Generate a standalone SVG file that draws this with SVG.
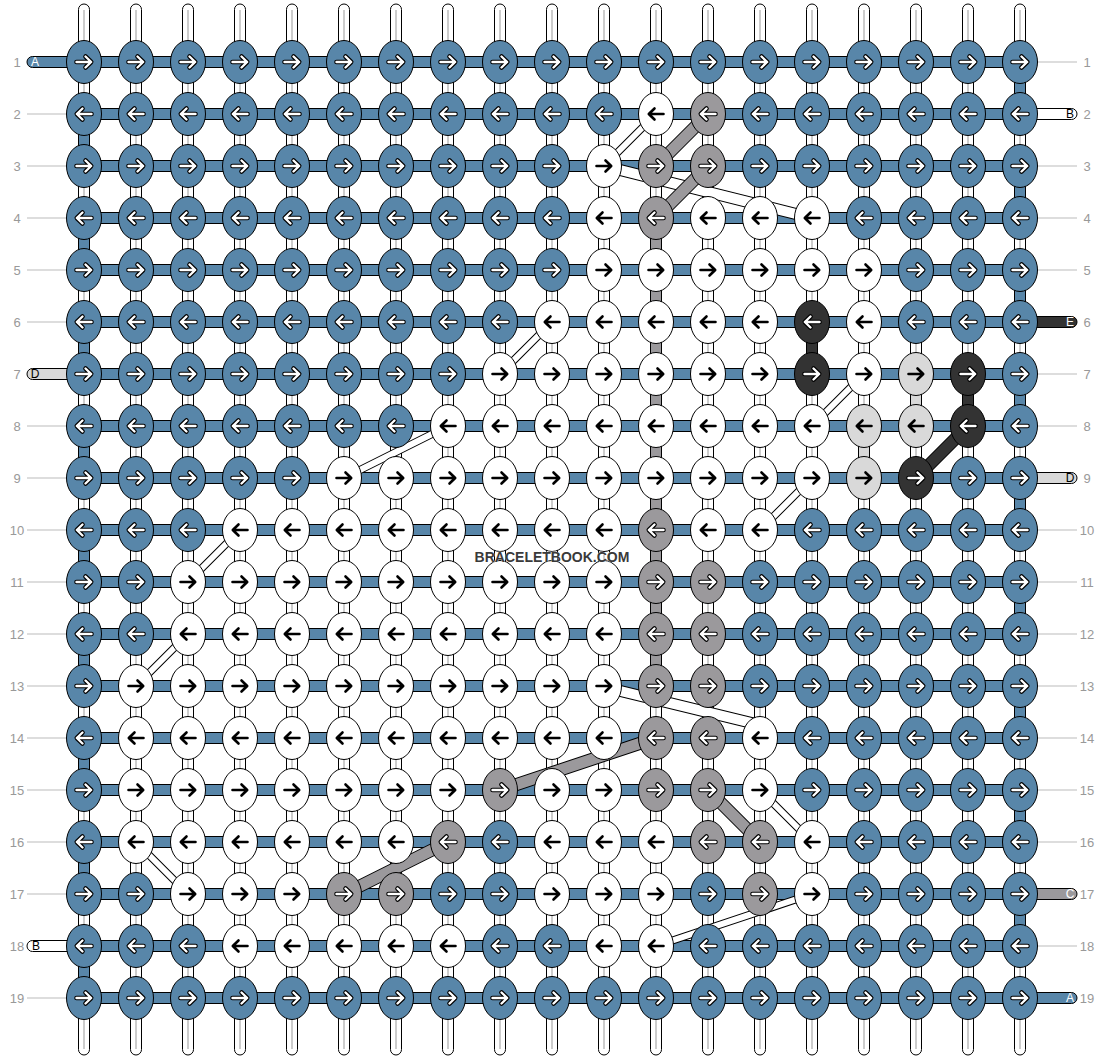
<svg xmlns="http://www.w3.org/2000/svg" xmlns:xlink="http://www.w3.org/1999/xlink" width="1104" height="1060" viewBox="0 0 1104 1060">
<style>
.lbl{font-family:"Liberation Sans",Arial,sans-serif;font-size:13px;fill:#999;text-anchor:middle}
.tl{font-family:"Liberation Sans",Arial,sans-serif;font-size:12px;text-anchor:middle}
.ll{stroke:#bbb;stroke-width:1}
.w{fill:#fff;stroke:#000;stroke-width:1}
.wl{stroke:#ccc;stroke-width:2}
.h{fill:#5886a9;stroke:#000;stroke-width:1}
.sb{fill:#5886a9;stroke:#000;stroke-width:1}
.sg{fill:#9b999c;stroke:#000;stroke-width:1}
.sd{fill:#333;stroke:#000;stroke-width:1}
.sl{fill:#d9d9d9;stroke:#000;stroke-width:1}
.ar{fill:none;stroke-linecap:round;stroke-linejoin:round}
.bo{stroke:#000;fill:none;stroke-linecap:butt}
.wm{font-family:"Liberation Sans",Arial,sans-serif;font-size:14px;font-weight:bold;fill:#3a3a3a;stroke:#fff;stroke-width:0.6;paint-order:stroke;text-anchor:middle}
</style>
<defs>
<ellipse id="e" rx="17.5" ry="21.5" stroke="#000" stroke-width="1"/>
<path id="ar" class="ar" d="M-7.5,0H7M1.5,-5.5L7.2,0L1.5,5.5"/>
<g id="rw"><use xlink:href="#ar" stroke="#000" stroke-width="4.6"/><use xlink:href="#ar" stroke="#fff" stroke-width="2.4"/></g>
<g id="rk"><use xlink:href="#ar" stroke="#000" stroke-width="2.6"/></g>
<g id="lw" transform="scale(-1,1)"><use xlink:href="#rw"/></g>
<g id="lk" transform="scale(-1,1)"><use xlink:href="#rk"/></g>
<g id="bR"><use xlink:href="#e" fill="#5886a9"/><use xlink:href="#rw"/></g>
<g id="bL"><use xlink:href="#e" fill="#5886a9"/><use xlink:href="#lw"/></g>
<g id="gR"><use xlink:href="#e" fill="#9b999c"/><use xlink:href="#rw"/></g>
<g id="gL"><use xlink:href="#e" fill="#9b999c"/><use xlink:href="#lw"/></g>
<g id="dR"><use xlink:href="#e" fill="#333"/><use xlink:href="#rw"/></g>
<g id="dL"><use xlink:href="#e" fill="#333"/><use xlink:href="#lw"/></g>
<g id="wR"><use xlink:href="#e" fill="#fff"/><use xlink:href="#rk"/></g>
<g id="wL"><use xlink:href="#e" fill="#fff"/><use xlink:href="#lk"/></g>
<g id="lR"><use xlink:href="#e" fill="#d9d9d9"/><use xlink:href="#rk"/></g>
<g id="lL"><use xlink:href="#e" fill="#d9d9d9"/><use xlink:href="#lk"/></g>
</defs>
<rect width="1104" height="1060" fill="#fff"/>
<g id="labels">
<g class="lbl">
<text x="17" y="67">1</text><text x="17" y="119">2</text><text x="17" y="171">3</text><text x="17" y="223">4</text><text x="17" y="275">5</text><text x="17" y="327">6</text><text x="17" y="379">7</text><text x="17" y="431">8</text><text x="17" y="483">9</text><text x="17" y="535">10</text><text x="17" y="587">11</text><text x="17" y="639">12</text><text x="17" y="691">13</text><text x="17" y="743">14</text><text x="17" y="795">15</text><text x="17" y="847">16</text><text x="17" y="899">17</text><text x="17" y="951">18</text><text x="17" y="1003">19</text>
<text x="1087" y="67">1</text><text x="1087" y="119">2</text><text x="1087" y="171">3</text><text x="1087" y="223">4</text><text x="1087" y="275">5</text><text x="1087" y="327">6</text><text x="1087" y="379">7</text><text x="1087" y="431">8</text><text x="1087" y="483">9</text><text x="1087" y="535">10</text><text x="1087" y="587">11</text><text x="1087" y="639">12</text><text x="1087" y="691">13</text><text x="1087" y="743">14</text><text x="1087" y="795">15</text><text x="1087" y="847">16</text><text x="1087" y="899">17</text><text x="1087" y="951">18</text><text x="1087" y="1003">19</text>
</g>
<g class="ll">
<line x1="27" y1="114" x2="67" y2="114"/><line x1="27" y1="166" x2="67" y2="166"/><line x1="27" y1="218" x2="67" y2="218"/><line x1="27" y1="270" x2="67" y2="270"/><line x1="27" y1="322" x2="67" y2="322"/><line x1="27" y1="426" x2="67" y2="426"/><line x1="27" y1="478" x2="67" y2="478"/><line x1="27" y1="530" x2="67" y2="530"/><line x1="27" y1="582" x2="67" y2="582"/><line x1="27" y1="634" x2="67" y2="634"/><line x1="27" y1="686" x2="67" y2="686"/><line x1="27" y1="738" x2="67" y2="738"/><line x1="27" y1="790" x2="67" y2="790"/><line x1="27" y1="842" x2="67" y2="842"/><line x1="27" y1="894" x2="67" y2="894"/><line x1="27" y1="998" x2="67" y2="998"/>
<line x1="1037" y1="62" x2="1077" y2="62"/><line x1="1037" y1="166" x2="1077" y2="166"/><line x1="1037" y1="218" x2="1077" y2="218"/><line x1="1037" y1="270" x2="1077" y2="270"/><line x1="1037" y1="374" x2="1077" y2="374"/><line x1="1037" y1="426" x2="1077" y2="426"/><line x1="1037" y1="530" x2="1077" y2="530"/><line x1="1037" y1="582" x2="1077" y2="582"/><line x1="1037" y1="634" x2="1077" y2="634"/><line x1="1037" y1="686" x2="1077" y2="686"/><line x1="1037" y1="738" x2="1077" y2="738"/><line x1="1037" y1="790" x2="1077" y2="790"/><line x1="1037" y1="842" x2="1077" y2="842"/><line x1="1037" y1="946" x2="1077" y2="946"/>
</g>
</g>
<g id="connectors">
<g id="warps">
<rect class="w" x="78.5" y="4" width="11" height="1051" rx="5.5"/><rect class="w" x="130.5" y="4" width="11" height="1051" rx="5.5"/><rect class="w" x="182.5" y="4" width="11" height="1051" rx="5.5"/><rect class="w" x="234.5" y="4" width="11" height="1051" rx="5.5"/><rect class="w" x="286.5" y="4" width="11" height="1051" rx="5.5"/><rect class="w" x="338.5" y="4" width="11" height="1051" rx="5.5"/><rect class="w" x="390.5" y="4" width="11" height="1051" rx="5.5"/><rect class="w" x="442.5" y="4" width="11" height="1051" rx="5.5"/><rect class="w" x="494.5" y="4" width="11" height="1051" rx="5.5"/><rect class="w" x="546.5" y="4" width="11" height="1051" rx="5.5"/><rect class="w" x="598.5" y="4" width="11" height="1051" rx="5.5"/><rect class="w" x="650.5" y="4" width="11" height="1051" rx="5.5"/><rect class="w" x="702.5" y="4" width="11" height="1051" rx="5.5"/><rect class="w" x="754.5" y="4" width="11" height="1051" rx="5.5"/><rect class="w" x="806.5" y="4" width="11" height="1051" rx="5.5"/><rect class="w" x="858.5" y="4" width="11" height="1051" rx="5.5"/><rect class="w" x="910.5" y="4" width="11" height="1051" rx="5.5"/><rect class="w" x="962.5" y="4" width="11" height="1051" rx="5.5"/><rect class="w" x="1014.5" y="4" width="11" height="1051" rx="5.5"/>
<g class="wl"><path d="M84,10V1049M136,10V1049M188,10V1049M240,10V1049M292,10V1049M344,10V1049M396,10V1049M448,10V1049M500,10V1049M552,10V1049M604,10V1049M656,10V1049M708,10V1049M760,10V1049M812,10V1049M864,10V1049M916,10V1049M968,10V1049M1020,10V1049"/></g>
</g>
<g id="tails">
<rect class="sb" x="27" y="56.5" width="60" height="11" rx="5.5"/>
<rect class="sl" x="27" y="368.5" width="60" height="11" rx="5.5"/>
<rect class="w" x="27" y="940.5" width="60" height="11" rx="5.5"/>
<rect class="w" x="1017" y="108.5" width="60" height="11" rx="5.5"/>
<rect class="sd" x="1017" y="316.5" width="60" height="11" rx="5.5"/>
<rect class="sl" x="1017" y="472.5" width="60" height="11" rx="5.5"/>
<rect class="sg" x="1017" y="888.5" width="60" height="11" rx="5.5"/>
<rect class="sb" x="1017" y="992.5" width="60" height="11" rx="5.5"/>
<g class="tl">
<text x="35" y="66" fill="#fff">A</text><text x="35" y="378" fill="#000">D</text><text x="36" y="950" fill="#000">B</text>
<text x="1070" y="118" fill="#000">B</text><text x="1070" y="326" fill="#fff">E</text><text x="1070" y="482" fill="#000">D</text><text x="1070" y="898" fill="#fff">C</text><text x="1070" y="1002" fill="#fff">A</text>
</g>
</g>
<g id="wefts">
<rect class="h" x="84" y="56.5" width="936" height="11"/><rect class="h" x="84" y="108.5" width="936" height="11"/><rect class="h" x="84" y="160.5" width="936" height="11"/><rect class="h" x="84" y="212.5" width="936" height="11"/><rect class="h" x="84" y="264.5" width="936" height="11"/><rect class="h" x="84" y="316.5" width="936" height="11"/><rect class="h" x="84" y="368.5" width="936" height="11"/><rect class="h" x="84" y="420.5" width="936" height="11"/><rect class="h" x="84" y="472.5" width="936" height="11"/><rect class="h" x="84" y="524.5" width="936" height="11"/><rect class="h" x="84" y="576.5" width="936" height="11"/><rect class="h" x="84" y="628.5" width="936" height="11"/><rect class="h" x="84" y="680.5" width="936" height="11"/><rect class="h" x="84" y="732.5" width="936" height="11"/><rect class="h" x="84" y="784.5" width="936" height="11"/><rect class="h" x="84" y="836.5" width="936" height="11"/><rect class="h" x="84" y="888.5" width="936" height="11"/><rect class="h" x="84" y="940.5" width="936" height="11"/><rect class="h" x="84" y="992.5" width="936" height="11"/>
</g>
<g id="turns">
<rect class="sb" x="1014.5" y="80" width="11" height="16"/><rect class="sb" x="1014.5" y="184" width="11" height="16"/><rect class="sb" x="1014.5" y="288" width="11" height="16"/><rect class="sb" x="1014.5" y="392" width="11" height="16"/><rect class="sb" x="1014.5" y="496" width="11" height="16"/><rect class="sb" x="1014.5" y="600" width="11" height="16"/><rect class="sb" x="1014.5" y="704" width="11" height="16"/><rect class="sb" x="1014.5" y="808" width="11" height="16"/><rect class="sb" x="1014.5" y="912" width="11" height="16"/>
<rect class="sb" x="78.5" y="132" width="11" height="16"/><rect class="sb" x="78.5" y="236" width="11" height="16"/><rect class="sb" x="78.5" y="340" width="11" height="16"/><rect class="sb" x="78.5" y="444" width="11" height="16"/><rect class="sb" x="78.5" y="548" width="11" height="16"/><rect class="sb" x="78.5" y="652" width="11" height="16"/><rect class="sb" x="78.5" y="756" width="11" height="16"/><rect class="sb" x="78.5" y="860" width="11" height="16"/><rect class="sb" x="78.5" y="964" width="11" height="16"/>
</g>
<g id="colored">
<rect class="sg" x="650.5" y="236" width="11" height="432"/>
<rect class="sg" x="702.5" y="704" width="11" height="16"/>
<rect class="sd" x="806.5" y="340" width="11" height="16"/>
<rect class="sd" x="962.5" y="392" width="11" height="16"/>
<rect class="sl" x="910.5" y="392" width="11" height="16"/>
<rect class="sl" x="858.5" y="444" width="11" height="16"/>
</g>
<g id="bands">
<path class="bo" stroke-width="8" d="M604,166L656,114M552,322L500,374M448,426L344,478M240,530L188,582M188,634L136,686M136,842L188,894M812,426L864,374M760,530L812,478M760,790L812,842M812,894L656,946"/>
<path fill="none" stroke="#fff" stroke-width="6" d="M604,166L656,114M552,322L500,374M448,426L344,478M240,530L188,582M188,634L136,686M136,842L188,894M812,426L864,374M760,530L812,478M760,790L812,842M812,894L656,946"/>
<path class="bo" stroke-width="12" d="M604,166L812,218M604,687L760,725"/>
<path fill="none" stroke="#fff" stroke-width="10" d="M604,166L812,218M604,687L760,725"/>
<path class="bo" stroke-width="13" d="M708,114L656,166M708,166L656,218M656,738L500,790M448,842L344,894M708,790L760,842M968,426L916,478"/>
<path fill="none" stroke="#9b999c" stroke-width="11" d="M708,114L656,166M708,166L656,218M656,738L500,790M448,842L344,894M708,790L760,842"/>
<path fill="none" stroke="#333" stroke-width="11" d="M968,426L916,478"/>
</g>
</g>
<g id="nodes">
<g id="row1" transform="translate(0,62)">
<g id="n1-1"><use xlink:href="#bR" x="84"/></g><g id="n1-2"><use xlink:href="#bR" x="136"/></g><g id="n1-3"><use xlink:href="#bR" x="188"/></g><g id="n1-4"><use xlink:href="#bR" x="240"/></g><g id="n1-5"><use xlink:href="#bR" x="292"/></g><g id="n1-6"><use xlink:href="#bR" x="344"/></g><g id="n1-7"><use xlink:href="#bR" x="396"/></g><g id="n1-8"><use xlink:href="#bR" x="448"/></g><g id="n1-9"><use xlink:href="#bR" x="500"/></g><g id="n1-10"><use xlink:href="#bR" x="552"/></g><g id="n1-11"><use xlink:href="#bR" x="604"/></g><g id="n1-12"><use xlink:href="#bR" x="656"/></g><g id="n1-13"><use xlink:href="#bR" x="708"/></g><g id="n1-14"><use xlink:href="#bR" x="760"/></g><g id="n1-15"><use xlink:href="#bR" x="812"/></g><g id="n1-16"><use xlink:href="#bR" x="864"/></g><g id="n1-17"><use xlink:href="#bR" x="916"/></g><g id="n1-18"><use xlink:href="#bR" x="968"/></g><g id="n1-19"><use xlink:href="#bR" x="1020"/></g>
</g>
<g id="row2" transform="translate(0,114)">
<g id="n2-1"><use xlink:href="#bL" x="84"/></g><g id="n2-2"><use xlink:href="#bL" x="136"/></g><g id="n2-3"><use xlink:href="#bL" x="188"/></g><g id="n2-4"><use xlink:href="#bL" x="240"/></g><g id="n2-5"><use xlink:href="#bL" x="292"/></g><g id="n2-6"><use xlink:href="#bL" x="344"/></g><g id="n2-7"><use xlink:href="#bL" x="396"/></g><g id="n2-8"><use xlink:href="#bL" x="448"/></g><g id="n2-9"><use xlink:href="#bL" x="500"/></g><g id="n2-10"><use xlink:href="#bL" x="552"/></g><g id="n2-11"><use xlink:href="#bL" x="604"/></g><g id="n2-12"><use xlink:href="#wL" x="656"/></g><g id="n2-13"><use xlink:href="#gL" x="708"/></g><g id="n2-14"><use xlink:href="#bL" x="760"/></g><g id="n2-15"><use xlink:href="#bL" x="812"/></g><g id="n2-16"><use xlink:href="#bL" x="864"/></g><g id="n2-17"><use xlink:href="#bL" x="916"/></g><g id="n2-18"><use xlink:href="#bL" x="968"/></g><g id="n2-19"><use xlink:href="#bL" x="1020"/></g>
</g>
<g id="row3" transform="translate(0,166)">
<g id="n3-1"><use xlink:href="#bR" x="84"/></g><g id="n3-2"><use xlink:href="#bR" x="136"/></g><g id="n3-3"><use xlink:href="#bR" x="188"/></g><g id="n3-4"><use xlink:href="#bR" x="240"/></g><g id="n3-5"><use xlink:href="#bR" x="292"/></g><g id="n3-6"><use xlink:href="#bR" x="344"/></g><g id="n3-7"><use xlink:href="#bR" x="396"/></g><g id="n3-8"><use xlink:href="#bR" x="448"/></g><g id="n3-9"><use xlink:href="#bR" x="500"/></g><g id="n3-10"><use xlink:href="#bR" x="552"/></g><g id="n3-11"><use xlink:href="#wR" x="604"/></g><g id="n3-12"><use xlink:href="#gR" x="656"/></g><g id="n3-13"><use xlink:href="#gR" x="708"/></g><g id="n3-14"><use xlink:href="#bR" x="760"/></g><g id="n3-15"><use xlink:href="#bR" x="812"/></g><g id="n3-16"><use xlink:href="#bR" x="864"/></g><g id="n3-17"><use xlink:href="#bR" x="916"/></g><g id="n3-18"><use xlink:href="#bR" x="968"/></g><g id="n3-19"><use xlink:href="#bR" x="1020"/></g>
</g>
<g id="row4" transform="translate(0,218)">
<g id="n4-1"><use xlink:href="#bL" x="84"/></g><g id="n4-2"><use xlink:href="#bL" x="136"/></g><g id="n4-3"><use xlink:href="#bL" x="188"/></g><g id="n4-4"><use xlink:href="#bL" x="240"/></g><g id="n4-5"><use xlink:href="#bL" x="292"/></g><g id="n4-6"><use xlink:href="#bL" x="344"/></g><g id="n4-7"><use xlink:href="#bL" x="396"/></g><g id="n4-8"><use xlink:href="#bL" x="448"/></g><g id="n4-9"><use xlink:href="#bL" x="500"/></g><g id="n4-10"><use xlink:href="#bL" x="552"/></g><g id="n4-11"><use xlink:href="#wL" x="604"/></g><g id="n4-12"><use xlink:href="#gL" x="656"/></g><g id="n4-13"><use xlink:href="#wL" x="708"/></g><g id="n4-14"><use xlink:href="#wL" x="760"/></g><g id="n4-15"><use xlink:href="#wL" x="812"/></g><g id="n4-16"><use xlink:href="#bL" x="864"/></g><g id="n4-17"><use xlink:href="#bL" x="916"/></g><g id="n4-18"><use xlink:href="#bL" x="968"/></g><g id="n4-19"><use xlink:href="#bL" x="1020"/></g>
</g>
<g id="row5" transform="translate(0,270)">
<g id="n5-1"><use xlink:href="#bR" x="84"/></g><g id="n5-2"><use xlink:href="#bR" x="136"/></g><g id="n5-3"><use xlink:href="#bR" x="188"/></g><g id="n5-4"><use xlink:href="#bR" x="240"/></g><g id="n5-5"><use xlink:href="#bR" x="292"/></g><g id="n5-6"><use xlink:href="#bR" x="344"/></g><g id="n5-7"><use xlink:href="#bR" x="396"/></g><g id="n5-8"><use xlink:href="#bR" x="448"/></g><g id="n5-9"><use xlink:href="#bR" x="500"/></g><g id="n5-10"><use xlink:href="#bR" x="552"/></g><g id="n5-11"><use xlink:href="#wR" x="604"/></g><g id="n5-12"><use xlink:href="#wR" x="656"/></g><g id="n5-13"><use xlink:href="#wR" x="708"/></g><g id="n5-14"><use xlink:href="#wR" x="760"/></g><g id="n5-15"><use xlink:href="#wR" x="812"/></g><g id="n5-16"><use xlink:href="#wR" x="864"/></g><g id="n5-17"><use xlink:href="#bR" x="916"/></g><g id="n5-18"><use xlink:href="#bR" x="968"/></g><g id="n5-19"><use xlink:href="#bR" x="1020"/></g>
</g>
<g id="row6" transform="translate(0,322)">
<g id="n6-1"><use xlink:href="#bL" x="84"/></g><g id="n6-2"><use xlink:href="#bL" x="136"/></g><g id="n6-3"><use xlink:href="#bL" x="188"/></g><g id="n6-4"><use xlink:href="#bL" x="240"/></g><g id="n6-5"><use xlink:href="#bL" x="292"/></g><g id="n6-6"><use xlink:href="#bL" x="344"/></g><g id="n6-7"><use xlink:href="#bL" x="396"/></g><g id="n6-8"><use xlink:href="#bL" x="448"/></g><g id="n6-9"><use xlink:href="#bL" x="500"/></g><g id="n6-10"><use xlink:href="#wL" x="552"/></g><g id="n6-11"><use xlink:href="#wL" x="604"/></g><g id="n6-12"><use xlink:href="#wL" x="656"/></g><g id="n6-13"><use xlink:href="#wL" x="708"/></g><g id="n6-14"><use xlink:href="#wL" x="760"/></g><g id="n6-15"><use xlink:href="#dL" x="812"/></g><g id="n6-16"><use xlink:href="#wL" x="864"/></g><g id="n6-17"><use xlink:href="#bL" x="916"/></g><g id="n6-18"><use xlink:href="#bL" x="968"/></g><g id="n6-19"><use xlink:href="#bL" x="1020"/></g>
</g>
<g id="row7" transform="translate(0,374)">
<g id="n7-1"><use xlink:href="#bR" x="84"/></g><g id="n7-2"><use xlink:href="#bR" x="136"/></g><g id="n7-3"><use xlink:href="#bR" x="188"/></g><g id="n7-4"><use xlink:href="#bR" x="240"/></g><g id="n7-5"><use xlink:href="#bR" x="292"/></g><g id="n7-6"><use xlink:href="#bR" x="344"/></g><g id="n7-7"><use xlink:href="#bR" x="396"/></g><g id="n7-8"><use xlink:href="#bR" x="448"/></g><g id="n7-9"><use xlink:href="#wR" x="500"/></g><g id="n7-10"><use xlink:href="#wR" x="552"/></g><g id="n7-11"><use xlink:href="#wR" x="604"/></g><g id="n7-12"><use xlink:href="#wR" x="656"/></g><g id="n7-13"><use xlink:href="#wR" x="708"/></g><g id="n7-14"><use xlink:href="#wR" x="760"/></g><g id="n7-15"><use xlink:href="#dR" x="812"/></g><g id="n7-16"><use xlink:href="#wR" x="864"/></g><g id="n7-17"><use xlink:href="#lR" x="916"/></g><g id="n7-18"><use xlink:href="#dR" x="968"/></g><g id="n7-19"><use xlink:href="#bR" x="1020"/></g>
</g>
<g id="row8" transform="translate(0,426)">
<g id="n8-1"><use xlink:href="#bL" x="84"/></g><g id="n8-2"><use xlink:href="#bL" x="136"/></g><g id="n8-3"><use xlink:href="#bL" x="188"/></g><g id="n8-4"><use xlink:href="#bL" x="240"/></g><g id="n8-5"><use xlink:href="#bL" x="292"/></g><g id="n8-6"><use xlink:href="#bL" x="344"/></g><g id="n8-7"><use xlink:href="#bL" x="396"/></g><g id="n8-8"><use xlink:href="#wL" x="448"/></g><g id="n8-9"><use xlink:href="#wL" x="500"/></g><g id="n8-10"><use xlink:href="#wL" x="552"/></g><g id="n8-11"><use xlink:href="#wL" x="604"/></g><g id="n8-12"><use xlink:href="#wL" x="656"/></g><g id="n8-13"><use xlink:href="#wL" x="708"/></g><g id="n8-14"><use xlink:href="#wL" x="760"/></g><g id="n8-15"><use xlink:href="#wL" x="812"/></g><g id="n8-16"><use xlink:href="#lL" x="864"/></g><g id="n8-17"><use xlink:href="#lL" x="916"/></g><g id="n8-18"><use xlink:href="#dL" x="968"/></g><g id="n8-19"><use xlink:href="#bL" x="1020"/></g>
</g>
<g id="row9" transform="translate(0,478)">
<g id="n9-1"><use xlink:href="#bR" x="84"/></g><g id="n9-2"><use xlink:href="#bR" x="136"/></g><g id="n9-3"><use xlink:href="#bR" x="188"/></g><g id="n9-4"><use xlink:href="#bR" x="240"/></g><g id="n9-5"><use xlink:href="#bR" x="292"/></g><g id="n9-6"><use xlink:href="#wR" x="344"/></g><g id="n9-7"><use xlink:href="#wR" x="396"/></g><g id="n9-8"><use xlink:href="#wR" x="448"/></g><g id="n9-9"><use xlink:href="#wR" x="500"/></g><g id="n9-10"><use xlink:href="#wR" x="552"/></g><g id="n9-11"><use xlink:href="#wR" x="604"/></g><g id="n9-12"><use xlink:href="#wR" x="656"/></g><g id="n9-13"><use xlink:href="#wR" x="708"/></g><g id="n9-14"><use xlink:href="#wR" x="760"/></g><g id="n9-15"><use xlink:href="#wR" x="812"/></g><g id="n9-16"><use xlink:href="#lR" x="864"/></g><g id="n9-17"><use xlink:href="#dR" x="916"/></g><g id="n9-18"><use xlink:href="#bR" x="968"/></g><g id="n9-19"><use xlink:href="#bR" x="1020"/></g>
</g>
<g id="row10" transform="translate(0,530)">
<g id="n10-1"><use xlink:href="#bL" x="84"/></g><g id="n10-2"><use xlink:href="#bL" x="136"/></g><g id="n10-3"><use xlink:href="#bL" x="188"/></g><g id="n10-4"><use xlink:href="#wL" x="240"/></g><g id="n10-5"><use xlink:href="#wL" x="292"/></g><g id="n10-6"><use xlink:href="#wL" x="344"/></g><g id="n10-7"><use xlink:href="#wL" x="396"/></g><g id="n10-8"><use xlink:href="#wL" x="448"/></g><g id="n10-9"><use xlink:href="#wL" x="500"/></g><g id="n10-10"><use xlink:href="#wL" x="552"/></g><g id="n10-11"><use xlink:href="#wL" x="604"/></g><g id="n10-12"><use xlink:href="#gL" x="656"/></g><g id="n10-13"><use xlink:href="#wL" x="708"/></g><g id="n10-14"><use xlink:href="#wL" x="760"/></g><g id="n10-15"><use xlink:href="#bL" x="812"/></g><g id="n10-16"><use xlink:href="#bL" x="864"/></g><g id="n10-17"><use xlink:href="#bL" x="916"/></g><g id="n10-18"><use xlink:href="#bL" x="968"/></g><g id="n10-19"><use xlink:href="#bL" x="1020"/></g>
</g>
<g id="row11" transform="translate(0,582)">
<g id="n11-1"><use xlink:href="#bR" x="84"/></g><g id="n11-2"><use xlink:href="#bR" x="136"/></g><g id="n11-3"><use xlink:href="#wR" x="188"/></g><g id="n11-4"><use xlink:href="#wR" x="240"/></g><g id="n11-5"><use xlink:href="#wR" x="292"/></g><g id="n11-6"><use xlink:href="#wR" x="344"/></g><g id="n11-7"><use xlink:href="#wR" x="396"/></g><g id="n11-8"><use xlink:href="#wR" x="448"/></g><g id="n11-9"><use xlink:href="#wR" x="500"/></g><g id="n11-10"><use xlink:href="#wR" x="552"/></g><g id="n11-11"><use xlink:href="#wR" x="604"/></g><g id="n11-12"><use xlink:href="#gR" x="656"/></g><g id="n11-13"><use xlink:href="#gR" x="708"/></g><g id="n11-14"><use xlink:href="#bR" x="760"/></g><g id="n11-15"><use xlink:href="#bR" x="812"/></g><g id="n11-16"><use xlink:href="#bR" x="864"/></g><g id="n11-17"><use xlink:href="#bR" x="916"/></g><g id="n11-18"><use xlink:href="#bR" x="968"/></g><g id="n11-19"><use xlink:href="#bR" x="1020"/></g>
</g>
<g id="row12" transform="translate(0,634)">
<g id="n12-1"><use xlink:href="#bL" x="84"/></g><g id="n12-2"><use xlink:href="#bL" x="136"/></g><g id="n12-3"><use xlink:href="#wL" x="188"/></g><g id="n12-4"><use xlink:href="#wL" x="240"/></g><g id="n12-5"><use xlink:href="#wL" x="292"/></g><g id="n12-6"><use xlink:href="#wL" x="344"/></g><g id="n12-7"><use xlink:href="#wL" x="396"/></g><g id="n12-8"><use xlink:href="#wL" x="448"/></g><g id="n12-9"><use xlink:href="#wL" x="500"/></g><g id="n12-10"><use xlink:href="#wL" x="552"/></g><g id="n12-11"><use xlink:href="#wL" x="604"/></g><g id="n12-12"><use xlink:href="#gL" x="656"/></g><g id="n12-13"><use xlink:href="#gL" x="708"/></g><g id="n12-14"><use xlink:href="#bL" x="760"/></g><g id="n12-15"><use xlink:href="#bL" x="812"/></g><g id="n12-16"><use xlink:href="#bL" x="864"/></g><g id="n12-17"><use xlink:href="#bL" x="916"/></g><g id="n12-18"><use xlink:href="#bL" x="968"/></g><g id="n12-19"><use xlink:href="#bL" x="1020"/></g>
</g>
<g id="row13" transform="translate(0,686)">
<g id="n13-1"><use xlink:href="#bR" x="84"/></g><g id="n13-2"><use xlink:href="#wR" x="136"/></g><g id="n13-3"><use xlink:href="#wR" x="188"/></g><g id="n13-4"><use xlink:href="#wR" x="240"/></g><g id="n13-5"><use xlink:href="#wR" x="292"/></g><g id="n13-6"><use xlink:href="#wR" x="344"/></g><g id="n13-7"><use xlink:href="#wR" x="396"/></g><g id="n13-8"><use xlink:href="#wR" x="448"/></g><g id="n13-9"><use xlink:href="#wR" x="500"/></g><g id="n13-10"><use xlink:href="#wR" x="552"/></g><g id="n13-11"><use xlink:href="#wR" x="604"/></g><g id="n13-12"><use xlink:href="#gR" x="656"/></g><g id="n13-13"><use xlink:href="#gR" x="708"/></g><g id="n13-14"><use xlink:href="#bR" x="760"/></g><g id="n13-15"><use xlink:href="#bR" x="812"/></g><g id="n13-16"><use xlink:href="#bR" x="864"/></g><g id="n13-17"><use xlink:href="#bR" x="916"/></g><g id="n13-18"><use xlink:href="#bR" x="968"/></g><g id="n13-19"><use xlink:href="#bR" x="1020"/></g>
</g>
<g id="row14" transform="translate(0,738)">
<g id="n14-1"><use xlink:href="#bL" x="84"/></g><g id="n14-2"><use xlink:href="#wL" x="136"/></g><g id="n14-3"><use xlink:href="#wL" x="188"/></g><g id="n14-4"><use xlink:href="#wL" x="240"/></g><g id="n14-5"><use xlink:href="#wL" x="292"/></g><g id="n14-6"><use xlink:href="#wL" x="344"/></g><g id="n14-7"><use xlink:href="#wL" x="396"/></g><g id="n14-8"><use xlink:href="#wL" x="448"/></g><g id="n14-9"><use xlink:href="#wL" x="500"/></g><g id="n14-10"><use xlink:href="#wL" x="552"/></g><g id="n14-11"><use xlink:href="#wL" x="604"/></g><g id="n14-12"><use xlink:href="#gL" x="656"/></g><g id="n14-13"><use xlink:href="#gL" x="708"/></g><g id="n14-14"><use xlink:href="#wL" x="760"/></g><g id="n14-15"><use xlink:href="#bL" x="812"/></g><g id="n14-16"><use xlink:href="#bL" x="864"/></g><g id="n14-17"><use xlink:href="#bL" x="916"/></g><g id="n14-18"><use xlink:href="#bL" x="968"/></g><g id="n14-19"><use xlink:href="#bL" x="1020"/></g>
</g>
<g id="row15" transform="translate(0,790)">
<g id="n15-1"><use xlink:href="#bR" x="84"/></g><g id="n15-2"><use xlink:href="#wR" x="136"/></g><g id="n15-3"><use xlink:href="#wR" x="188"/></g><g id="n15-4"><use xlink:href="#wR" x="240"/></g><g id="n15-5"><use xlink:href="#wR" x="292"/></g><g id="n15-6"><use xlink:href="#wR" x="344"/></g><g id="n15-7"><use xlink:href="#wR" x="396"/></g><g id="n15-8"><use xlink:href="#wR" x="448"/></g><g id="n15-9"><use xlink:href="#gR" x="500"/></g><g id="n15-10"><use xlink:href="#wR" x="552"/></g><g id="n15-11"><use xlink:href="#wR" x="604"/></g><g id="n15-12"><use xlink:href="#gR" x="656"/></g><g id="n15-13"><use xlink:href="#gR" x="708"/></g><g id="n15-14"><use xlink:href="#wR" x="760"/></g><g id="n15-15"><use xlink:href="#bR" x="812"/></g><g id="n15-16"><use xlink:href="#bR" x="864"/></g><g id="n15-17"><use xlink:href="#bR" x="916"/></g><g id="n15-18"><use xlink:href="#bR" x="968"/></g><g id="n15-19"><use xlink:href="#bR" x="1020"/></g>
</g>
<g id="row16" transform="translate(0,842)">
<g id="n16-1"><use xlink:href="#bL" x="84"/></g><g id="n16-2"><use xlink:href="#wL" x="136"/></g><g id="n16-3"><use xlink:href="#wL" x="188"/></g><g id="n16-4"><use xlink:href="#wL" x="240"/></g><g id="n16-5"><use xlink:href="#wL" x="292"/></g><g id="n16-6"><use xlink:href="#wL" x="344"/></g><g id="n16-7"><use xlink:href="#wL" x="396"/></g><g id="n16-8"><use xlink:href="#gL" x="448"/></g><g id="n16-9"><use xlink:href="#bL" x="500"/></g><g id="n16-10"><use xlink:href="#wL" x="552"/></g><g id="n16-11"><use xlink:href="#wL" x="604"/></g><g id="n16-12"><use xlink:href="#wL" x="656"/></g><g id="n16-13"><use xlink:href="#gL" x="708"/></g><g id="n16-14"><use xlink:href="#gL" x="760"/></g><g id="n16-15"><use xlink:href="#wL" x="812"/></g><g id="n16-16"><use xlink:href="#bL" x="864"/></g><g id="n16-17"><use xlink:href="#bL" x="916"/></g><g id="n16-18"><use xlink:href="#bL" x="968"/></g><g id="n16-19"><use xlink:href="#bL" x="1020"/></g>
</g>
<g id="row17" transform="translate(0,894)">
<g id="n17-1"><use xlink:href="#bR" x="84"/></g><g id="n17-2"><use xlink:href="#bR" x="136"/></g><g id="n17-3"><use xlink:href="#wR" x="188"/></g><g id="n17-4"><use xlink:href="#wR" x="240"/></g><g id="n17-5"><use xlink:href="#wR" x="292"/></g><g id="n17-6"><use xlink:href="#gR" x="344"/></g><g id="n17-7"><use xlink:href="#gR" x="396"/></g><g id="n17-8"><use xlink:href="#bR" x="448"/></g><g id="n17-9"><use xlink:href="#bR" x="500"/></g><g id="n17-10"><use xlink:href="#wR" x="552"/></g><g id="n17-11"><use xlink:href="#wR" x="604"/></g><g id="n17-12"><use xlink:href="#wR" x="656"/></g><g id="n17-13"><use xlink:href="#bR" x="708"/></g><g id="n17-14"><use xlink:href="#gR" x="760"/></g><g id="n17-15"><use xlink:href="#wR" x="812"/></g><g id="n17-16"><use xlink:href="#bR" x="864"/></g><g id="n17-17"><use xlink:href="#bR" x="916"/></g><g id="n17-18"><use xlink:href="#bR" x="968"/></g><g id="n17-19"><use xlink:href="#bR" x="1020"/></g>
</g>
<g id="row18" transform="translate(0,946)">
<g id="n18-1"><use xlink:href="#bL" x="84"/></g><g id="n18-2"><use xlink:href="#bL" x="136"/></g><g id="n18-3"><use xlink:href="#bL" x="188"/></g><g id="n18-4"><use xlink:href="#wL" x="240"/></g><g id="n18-5"><use xlink:href="#wL" x="292"/></g><g id="n18-6"><use xlink:href="#wL" x="344"/></g><g id="n18-7"><use xlink:href="#wL" x="396"/></g><g id="n18-8"><use xlink:href="#wL" x="448"/></g><g id="n18-9"><use xlink:href="#bL" x="500"/></g><g id="n18-10"><use xlink:href="#bL" x="552"/></g><g id="n18-11"><use xlink:href="#wL" x="604"/></g><g id="n18-12"><use xlink:href="#wL" x="656"/></g><g id="n18-13"><use xlink:href="#bL" x="708"/></g><g id="n18-14"><use xlink:href="#bL" x="760"/></g><g id="n18-15"><use xlink:href="#bL" x="812"/></g><g id="n18-16"><use xlink:href="#bL" x="864"/></g><g id="n18-17"><use xlink:href="#bL" x="916"/></g><g id="n18-18"><use xlink:href="#bL" x="968"/></g><g id="n18-19"><use xlink:href="#bL" x="1020"/></g>
</g>
<g id="row19" transform="translate(0,998)">
<g id="n19-1"><use xlink:href="#bR" x="84"/></g><g id="n19-2"><use xlink:href="#bR" x="136"/></g><g id="n19-3"><use xlink:href="#bR" x="188"/></g><g id="n19-4"><use xlink:href="#bR" x="240"/></g><g id="n19-5"><use xlink:href="#bR" x="292"/></g><g id="n19-6"><use xlink:href="#bR" x="344"/></g><g id="n19-7"><use xlink:href="#bR" x="396"/></g><g id="n19-8"><use xlink:href="#bR" x="448"/></g><g id="n19-9"><use xlink:href="#bR" x="500"/></g><g id="n19-10"><use xlink:href="#bR" x="552"/></g><g id="n19-11"><use xlink:href="#bR" x="604"/></g><g id="n19-12"><use xlink:href="#bR" x="656"/></g><g id="n19-13"><use xlink:href="#bR" x="708"/></g><g id="n19-14"><use xlink:href="#bR" x="760"/></g><g id="n19-15"><use xlink:href="#bR" x="812"/></g><g id="n19-16"><use xlink:href="#bR" x="864"/></g><g id="n19-17"><use xlink:href="#bR" x="916"/></g><g id="n19-18"><use xlink:href="#bR" x="968"/></g><g id="n19-19"><use xlink:href="#bR" x="1020"/></g>
</g>
</g>
<text class="wm" x="552" y="562">BRACELETBOOK.COM</text>
</svg>
